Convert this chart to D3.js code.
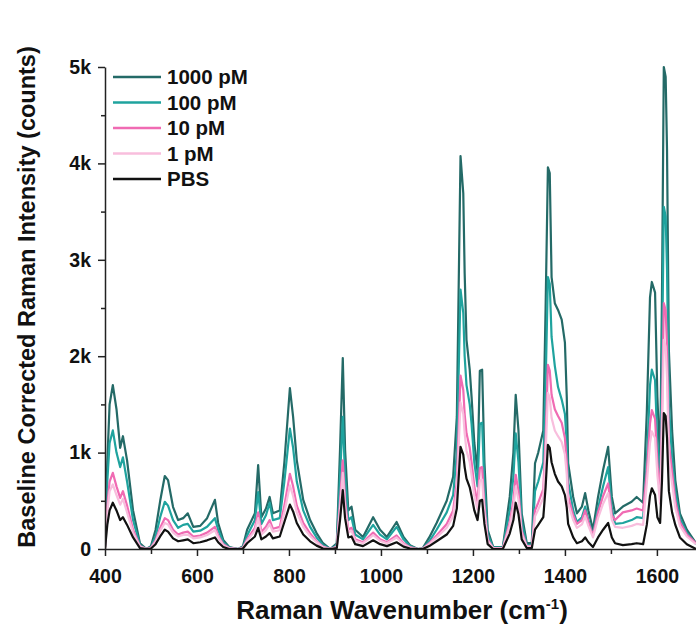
<!DOCTYPE html>
<html lang="en">
<head>
    <meta charset="UTF-8">
    <title>Raman Spectra</title>
    <script src="https://d3js.org/d3.v7.min.js"></script>
    <style>
        body { margin: 0; background: #fff; }
        text { font-family: "Liberation Sans", Arial, sans-serif; font-weight: bold; fill: #111; }
        .axis path, .axis line { stroke: #222; stroke-width: 1.5; }
        .axis text { font-size: 19.5px; }
        .spec { fill: none; stroke-width: 2.2; stroke-linejoin: round; }
    </style>
</head>
<body>
    <svg id="chart" width="696" height="629"></svg>

    <script>
        // wavenumber grid (cm-1)
        const wavenumbers = [400, 405, 410, 417, 425, 433, 439, 448, 461, 476, 490, 500, 510, 520, 530, 537, 548, 559, 570, 580,
            592, 607, 622, 639, 646, 657, 670, 690, 700, 709, 726, 733, 740, 750, 758, 765, 780, 790, 802, 809,
            817, 831, 846, 860, 874, 890, 904, 911, 917, 922, 929, 936, 944, 961, 983, 998, 1013, 1034, 1049, 1063,
            1080, 1091, 1105, 1121, 1143, 1157, 1165, 1173, 1179, 1182, 1186, 1193, 1197, 1203, 1210, 1215, 1220, 1225, 1232, 1244,
            1265, 1280, 1288, 1293, 1299, 1306, 1317, 1328, 1335, 1342, 1353, 1358, 1363, 1367, 1371, 1378, 1385, 1393, 1400, 1404,
            1407, 1418, 1426, 1437, 1444, 1451, 1461, 1472, 1483, 1494, 1502, 1509, 1526, 1545, 1556, 1570, 1578, 1585, 1589, 1596,
            1601, 1607, 1611, 1615, 1619, 1622, 1626, 1633, 1640, 1650, 1665, 1685];

        const pM1000 = [20, 900, 1500, 1700, 1450, 1050, 1170, 920, 400, 60, 0, 30, 200, 500, 757, 715, 435, 300, 320, 370,
            230, 240, 320, 510, 270, 95, 20, 0, 30, 200, 370, 870, 330, 420, 540, 370, 400, 900, 1670, 1370,
            920, 510, 300, 165, 60, 0, 60, 1030, 1980, 1030, 400, 440, 200, 125, 330, 200, 125, 280, 125, 40,
            0, 10, 120, 270, 500, 750, 1370, 4077, 3690, 2860, 2170, 1860, 1580, 1100, 800, 1850, 1860, 900, 200, 20,
            20, 540, 1000, 1600, 1230, 370, 60, 60, 890, 1000, 1230, 2500, 3960, 3900, 2820, 2550, 2480, 2380, 2140, 1580,
            890, 540, 370, 440, 580, 400, 200, 540, 820, 1060, 540, 370, 440, 490, 540, 480, 1410, 2610, 2770, 2660,
            1580, 890, 2610, 5000, 4900, 4140, 2060, 1230, 715, 370, 200, 60];

        const pM100 = [20, 700, 1100, 1230, 1000, 850, 950, 700, 300, 40, 0, 20, 130, 330, 490, 450, 300, 220, 250, 260,
            180, 190, 230, 320, 200, 70, 15, 0, 20, 140, 300, 590, 260, 350, 480, 300, 320, 700, 1250, 1050,
            700, 400, 230, 120, 40, 0, 40, 750, 1370, 750, 300, 330, 150, 100, 250, 150, 100, 230, 100, 30,
            0, 5, 80, 200, 380, 560, 1000, 2690, 2450, 2000, 1700, 1500, 1300, 900, 650, 1300, 1310, 650, 150, 15,
            15, 400, 750, 1200, 900, 280, 40, 40, 600, 700, 900, 1700, 2820, 2750, 2200, 1900, 1680, 1550, 1400, 1100,
            700, 400, 280, 330, 440, 300, 150, 420, 650, 850, 420, 260, 270, 300, 330, 320, 900, 1700, 1860, 1750,
            1100, 700, 1900, 3550, 3450, 2900, 1500, 950, 600, 320, 170, 50];

        const pM10 = [10, 450, 700, 790, 650, 530, 600, 450, 200, 30, 0, 15, 90, 220, 320, 300, 200, 150, 170, 180,
            130, 140, 170, 230, 140, 50, 10, 0, 15, 100, 220, 380, 180, 230, 300, 210, 230, 450, 780, 650,
            450, 270, 160, 80, 25, 0, 25, 500, 920, 500, 200, 220, 100, 70, 170, 100, 70, 140, 60, 20,
            0, 5, 60, 140, 260, 400, 700, 1800, 1650, 1400, 1200, 1050, 900, 650, 480, 840, 850, 450, 100, 10,
            10, 280, 500, 770, 600, 190, 30, 30, 400, 480, 620, 1150, 1910, 1850, 1600, 1450, 1380, 1310, 1150, 900,
            550, 350, 260, 300, 400, 280, 140, 380, 550, 680, 350, 300, 380, 400, 420, 400, 800, 1300, 1440, 1350,
            900, 550, 1400, 2550, 2480, 2100, 1100, 800, 500, 280, 150, 60];

        const pM1 = [10, 380, 600, 670, 560, 460, 520, 380, 170, 25, 0, 10, 75, 190, 270, 255, 170, 130, 145, 150,
            110, 120, 145, 195, 120, 40, 8, 0, 12, 85, 190, 320, 150, 195, 255, 180, 195, 380, 660, 550,
            380, 230, 135, 70, 20, 0, 20, 420, 790, 430, 170, 190, 85, 60, 145, 85, 60, 120, 50, 15,
            0, 4, 50, 120, 220, 340, 600, 1520, 1400, 1200, 1020, 900, 770, 550, 410, 710, 720, 380, 85, 8,
            8, 240, 430, 650, 510, 160, 25, 25, 340, 410, 530, 980, 1620, 1570, 1360, 1230, 1170, 1110, 980, 770,
            470, 300, 220, 255, 340, 240, 120, 320, 470, 580, 300, 230, 220, 240, 260, 250, 680, 1100, 1220, 1150,
            770, 470, 1190, 2170, 2100, 1780, 940, 680, 430, 240, 130, 50];

        const pbs = [0, 250, 400, 480, 400, 300, 330, 250, 120, 10, 0, 5, 50, 130, 200, 180, 110, 80, 90, 100,
            60, 70, 90, 120, 70, 20, 0, 0, 5, 60, 130, 220, 100, 130, 165, 110, 130, 280, 460, 390,
            270, 150, 80, 35, 5, 0, 10, 300, 610, 320, 120, 130, 50, 30, 90, 50, 30, 70, 25, 5,
            0, 0, 30, 80, 150, 240, 420, 1060, 980, 850, 730, 640, 550, 400, 300, 500, 510, 260, 50, 0,
            0, 160, 300, 480, 360, 100, 10, 10, 200, 250, 330, 640, 1080, 1050, 900, 780, 700, 650, 560, 430,
            260, 120, 60, 80, 120, 70, 20, 120, 200, 270, 120, 60, 40, 50, 60, 50, 250, 550, 630, 560,
            330, 270, 700, 1410, 1380, 1150, 600, 380, 250, 120, 50, 0];

        const seriesNames = ['1000 pM', '100 pM', '10 pM', '1 pM', 'PBS'];
        const seriesValues = [pM1000, pM100, pM10, pM1, pbs];
        const seriesColors = ['#246a67', '#1fa39e', '#f06bb3', '#f8bedd', '#111111'];

        const xTicks = [400, 600, 800, 1000, 1200, 1400, 1600];
        const xMinor = [500, 700, 900, 1100, 1300, 1500];
        const yTicks = [0, 1000, 2000, 3000, 4000, 5000];
        const yMinor = [500, 1500, 2500, 3500, 4500];

        const svg = d3.select('#chart');
        const plotLeft = 105, plotRight = 696, plotTop = 67, plotBottom = 549;

        const x = d3.scaleLinear().domain([400, 1685]).range([plotLeft, plotRight]);
        const y = d3.scaleLinear().domain([0, 5000]).range([plotBottom, plotTop]);

        svg.append('defs').append('clipPath').attr('id', 'plot')
            .append('rect')
            .attr('x', plotLeft).attr('y', plotTop - 5)
            .attr('width', plotRight - plotLeft).attr('height', plotBottom - plotTop + 5);

        // spectra, highest concentration first so PBS sits on top
        const line = d3.line()
            .x((d, i) => x(wavenumbers[i]))
            .y(d => y(d));

        svg.append('g').attr('clip-path', 'url(#plot)')
            .selectAll('path')
            .data(seriesValues)
            .join('path')
            .attr('class', 'spec')
            .attr('stroke', (d, i) => seriesColors[i])
            .attr('d', line);

        // minor ticks
        svg.append('g').attr('class', 'axis')
            .attr('transform', `translate(0,${plotBottom})`)
            .call(d3.axisBottom(x).tickValues(xMinor).tickSize(5).tickFormat(''))
            .call(g => g.select('.domain').remove());
        svg.append('g').attr('class', 'axis')
            .attr('transform', `translate(${plotLeft},0)`)
            .call(d3.axisLeft(y).tickValues(yMinor).tickSize(4).tickFormat(''))
            .call(g => g.select('.domain').remove());

        // major axes
        svg.append('g').attr('class', 'axis')
            .attr('transform', `translate(0,${plotBottom})`)
            .call(d3.axisBottom(x).tickValues(xTicks).tickSize(7).tickSizeOuter(0).tickPadding(13)
                .tickFormat(d => String(d)));
        svg.append('g').attr('class', 'axis')
            .attr('transform', `translate(${plotLeft},0)`)
            .call(d3.axisLeft(y).tickValues(yTicks).tickSize(7).tickSizeOuter(0).tickPadding(7)
                .tickFormat(d => d === 0 ? '0' : (d / 1000) + 'k'));

        // axis titles
        const xTitle = svg.append('text')
            .attr('x', 402)
            .attr('y', 619)
            .attr('text-anchor', 'middle')
            .style('font-size', '26px')
            .text('Raman Wavenumber (cm');
        xTitle.append('tspan').attr('dy', -10).style('font-size', '15px').text('-1');
        xTitle.append('tspan').attr('dy', 10).text(')');

        svg.append('text')
            .attr('transform', `translate(35,297) rotate(-90)`)
            .attr('text-anchor', 'middle')
            .style('font-size', '23.5px')
            .text('Baseline Corrected Raman Intensity (counts)');

        // legend
        const legend = svg.append('g');
        seriesNames.forEach((name, i) => {
            const ly = 77 + i * 25.5;
            legend.append('line')
                .attr('x1', 113).attr('x2', 161)
                .attr('y1', ly).attr('y2', ly)
                .attr('stroke', seriesColors[i])
                .attr('stroke-width', 2.5);
            legend.append('text')
                .attr('x', 167).attr('y', ly)
                .attr('dy', '0.35em')
                .style('font-size', '20.5px')
                .text(name);
        });
    </script>
</body>
</html>
